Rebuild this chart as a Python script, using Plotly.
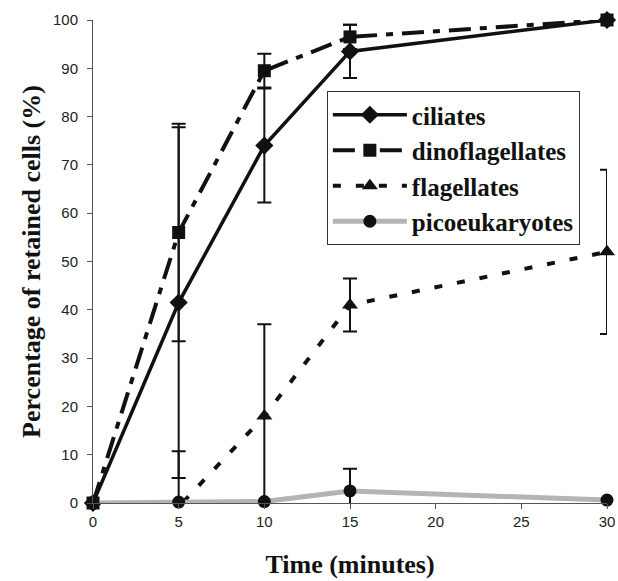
import plotly.graph_objects as go

time_min = [0, 5, 10, 15, 30]

ciliates = [0, 41.5, 74, 93.5, 100]
ciliates_err = [0, 36.3, 11.8, 5.5, 0]

dinoflagellates = [0, 56, 89.5, 96.5, 100]
dinoflagellates_err = [0, 22.5, 3.5, 2.5, 0]

flagellates = [-0.5, -0.8, 18, 41, 52]
flagellates_err = [0, 11.5, 19, 5.5, 17]

picoeukaryotes = [0, 0.2, 0.3, 2.5, 0.6]
picoeukaryotes_err = [0, 0, 0, 4.6, 0]

x_ticks = [0, 5, 10, 15, 20, 25, 30]
y_ticks = [0, 10, 20, 30, 40, 50, 60, 70, 80, 90, 100]

series = [
    ("ciliates", ciliates, ciliates_err, "solid", "#111111", 3.5, "diamond", 14),
    ("dinoflagellates", dinoflagellates, dinoflagellates_err, "22px,9px,7px,9px", "#111111", 4, "square", 13),
    ("flagellates", flagellates, flagellates_err, "8px,15px", "#111111", 4, "triangle-up", 14),
    ("picoeukaryotes", picoeukaryotes, picoeukaryotes_err, "solid", "#b4b4b4", 5, "circle", 13),
]

fig = go.Figure()
for name, vals, errs, dash, color, lw, sym, msize in series:
    fig.add_trace(go.Scatter(
        x=time_min, y=vals, name="<b>" + name + "</b>", mode="lines+markers",
        line=dict(color=color, width=lw, dash=dash),
        marker=dict(symbol=sym, size=msize, color="#111111"),
        error_y=dict(type="data", array=errs, visible=True, color="#111111",
                     thickness=2, width=7),
        cliponaxis=False,
    ))

serif = "Liberation Serif, Times New Roman, serif"
sans = "Liberation Sans, Arial, sans-serif"

fig.update_layout(
    width=618, height=581,
    margin=dict(l=93, r=11, t=20, b=78),
    paper_bgcolor="white", plot_bgcolor="white",
    showlegend=True,
    legend=dict(
        x=0.455, y=0.853, xanchor="left", yanchor="top",
        bgcolor="white", bordercolor="#333333", borderwidth=1,
        font=dict(family=serif, size=25, color="#111111"),
        itemwidth=74, tracegroupgap=0,
    ),
    xaxis=dict(
        range=[0, 30], tickvals=x_ticks, ticktext=[str(v) for v in x_ticks],
        showgrid=False, zeroline=False, showline=True, linecolor="#555555", linewidth=1,
        ticks="outside", ticklen=5, tickcolor="#555555", automargin=False,
        tickfont=dict(family=sans, size=15, color="#222222"),
        title=dict(text="<b>Time (minutes)</b>", font=dict(family=serif, size=26, color="#111111"), standoff=25),
    ),
    yaxis=dict(
        range=[0, 100], tickvals=y_ticks, ticktext=[str(v) for v in y_ticks],
        showgrid=False, zeroline=False, showline=True, linecolor="#555555", linewidth=1,
        ticks="outside", ticklen=5, tickcolor="#555555", automargin=False,
        tickfont=dict(family=sans, size=15, color="#222222"),
        ticklabelstandoff=6,
        title=dict(text="<b>Percentage of retained cells (%)</b>", font=dict(family=serif, size=26, color="#111111"), standoff=4),
    ),
)

fig.write_html(
    "out.html",
    config={"displayModeBar": False},
    post_script="document.body.style.margin='0';document.body.style.overflow='hidden';",
)
